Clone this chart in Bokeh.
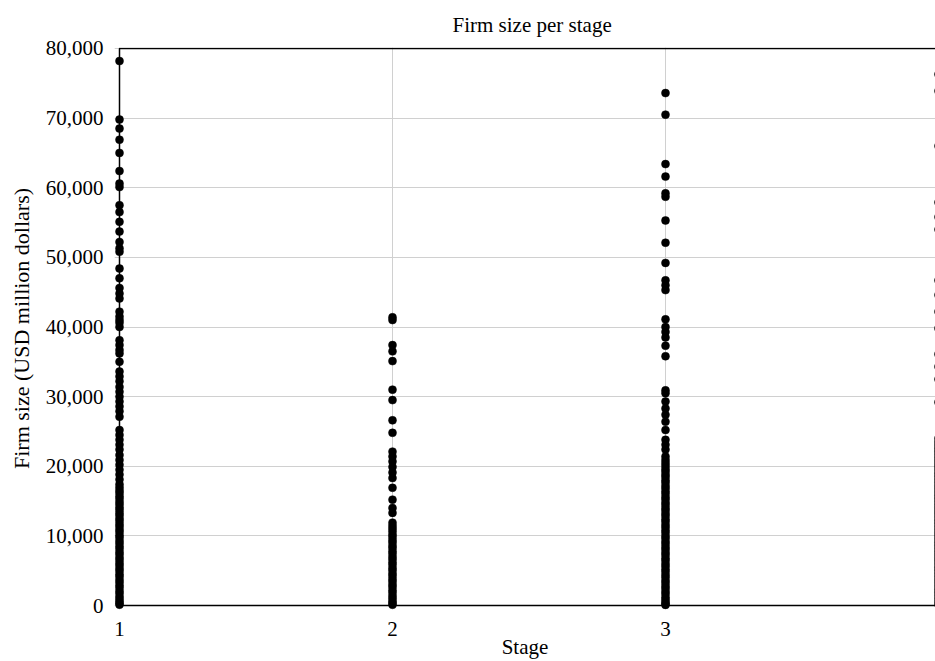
from bokeh.plotting import figure
from bokeh.models import FixedTicker, NumeralTickFormatter, BoxAnnotation, Range1d, ColumnDataSource
from bokeh.embed import file_html
from bokeh.resources import INLINE

title_text = "Firm size per stage"
x_title = "Stage"
y_title = "Firm size (USD million dollars)"

stage_ticks = [1, 2, 3, 4]
y_ticks = [0, 10000, 20000, 30000, 40000, 50000, 60000, 70000, 80000]

stage1_size = [78200, 69800, 68500, 66900, 65000, 62400, 60600, 60100, 57500, 56500,
               55100, 53700, 52200, 51300, 50800, 48400, 47000, 45600, 44800, 44100,
               42200, 41500, 41000, 40600, 40000, 38100, 37400, 36700, 36200, 35000,
               33600, 32900, 32200, 31400, 30700, 30000, 29300, 28600, 27900, 27100,
               25200, 24500, 23800, 23100, 22400, 21600, 20900, 20200, 19500, 18800,
               18100, 17400, 16950, 16500, 16150, 15700, 15350, 14900, 14550, 14100,
               13750, 13300, 12950, 12500, 12150, 11700, 11350, 10900, 10550, 10100,
               9750, 9300, 8950, 8500, 8150, 7700, 7350, 6900, 6550, 6100,
               5750, 5300, 4950, 4500, 4150, 3700, 3350, 2900, 2550, 2100,
               1750, 1300, 950, 600, 320, 120]
stage2_size = [41400, 41000, 37400, 36500, 35100, 31000, 29500, 26600, 24800, 22100,
               21400, 20700, 19900, 19100, 18300, 16900, 15200, 14000, 13300, 11900,
               11450, 11050, 10650, 10200, 9850, 9400, 9050, 8600, 8250, 7800,
               7450, 7000, 6650, 6200, 5850, 5400, 5050, 4600, 4250, 3800,
               3450, 3000, 2650, 2200, 1850, 1400, 1050, 650, 350, 100]
stage3_size = [73600, 70500, 63400, 61600, 59200, 58700, 55300, 52100, 49200, 46700,
               46000, 45300, 41100, 40000, 39300, 38500, 37300, 35800, 30900, 30500,
               29300, 28300, 27400, 26400, 25200, 23800, 23100, 22400, 21400, 20900,
               20450, 20050, 19600, 19250, 18800, 18450, 18000, 17650, 17200, 16850,
               16400, 16050, 15600, 15250, 14800, 14450, 14000, 13650, 13200, 12850,
               12400, 12050, 11600, 11250, 10800, 10450, 10000, 9650, 9200, 8850,
               8400, 8050, 7600, 7250, 6800, 6450, 6000, 5650, 5200, 4850,
               4400, 4050, 3600, 3250, 2800, 2450, 2000, 1650, 1200, 850,
               500, 250, 80]
stage4_size = [76300, 73900, 66000, 57900, 55800, 54000, 46700, 44600, 42200, 39800,
               36100, 34300, 32500, 29200, 24000, 23500, 23050, 22600, 22150, 21700,
               21250, 20800, 20350, 19900, 19450, 19000, 18550, 18100, 17650, 17200,
               16750, 16300, 15850, 15400, 14950, 14500, 14050, 13600, 13150, 12700,
               12250, 11800, 11350, 10900, 10450, 10000, 9550, 9100, 8650, 8200,
               7750, 7300, 6850, 6400, 5950, 5500, 5050, 4600, 4150, 3700,
               3250, 2800, 2350, 1900, 1450, 1000, 550, 150]

xs, ys = [], []
for st, vals in zip(stage_ticks, [stage1_size, stage2_size, stage3_size, stage4_size]):
    xs += [st] * len(vals)
    ys += vals
src = ColumnDataSource(dict(x=xs, y=ys))

FONT = "Liberation Serif"
px_per_unit = 273.0
px_per_val = 558.0 / 80000.0
frame_left_off = 5.0
W, H = 935, 661
ml, mt, mb = 114, 47, 51
frame_w = W - ml
frame_h = H - mt - mb
x0 = 1 - frame_left_off / px_per_unit
x1 = x0 + frame_w / px_per_unit
y1 = 80000 + 1.0 / px_per_val
y0 = y1 - frame_h / px_per_val

p = figure(width=W, height=H, output_backend="svg", toolbar_location=None,
           x_range=Range1d(x0, x1), y_range=Range1d(y0, y1),
           min_border_left=ml, min_border_right=0, min_border_top=mt, min_border_bottom=mb)
p.outline_line_color = None
p.background_fill_color = "white"
p.border_fill_color = "white"

p.title.text = title_text
p.title.text_font = FONT
p.title.text_font_size = "21px"
p.title.text_font_style = "normal"
p.title.text_color = "black"
p.title.align = "left"
p.title.offset = 338
p.title.standoff = 21

p.xaxis.ticker = FixedTicker(ticks=stage_ticks)
p.yaxis.ticker = FixedTicker(ticks=y_ticks)
p.yaxis.formatter = NumeralTickFormatter(format="0,0")
for ax in (p.xaxis, p.yaxis):
    ax.axis_line_color = None
    ax.major_tick_line_color = None
    ax.minor_tick_line_color = None
    ax.major_tick_out = 0
    ax.major_tick_in = 0
    ax.major_label_text_font = FONT
    ax.major_label_text_font_size = "21px"
    ax.major_label_text_color = "black"
    ax.axis_label_text_font = FONT
    ax.axis_label_text_font_style = "normal"
    ax.axis_label_text_color = "black"
p.xaxis.major_label_standoff = 12
p.yaxis.major_label_standoff = 11
p.yaxis.axis_label = y_title
p.yaxis.axis_label_text_font_size = "22px"
p.yaxis.axis_label_standoff = 9
p.xaxis.axis_label = x_title
p.xaxis.axis_label_text_font_size = "21px"
p.xaxis.axis_label_standoff = -4

p.xgrid.grid_line_color = "#d0d0d0"
p.ygrid.grid_line_color = "#d0d0d0"
p.xgrid.grid_line_width = 1
p.ygrid.grid_line_width = 1

p.scatter("x", "y", source=src, marker="circle", size=8, fill_color="black",
          line_color="black", line_width=0.5)

p.add_layout(BoxAnnotation(left=1, right=4, bottom=0, top=80000, fill_color=None,
                           fill_alpha=0, line_color="black", line_alpha=1.0,
                           line_width=1.5, level="overlay"))

open("out.html", "w").write(file_html(p, INLINE))
